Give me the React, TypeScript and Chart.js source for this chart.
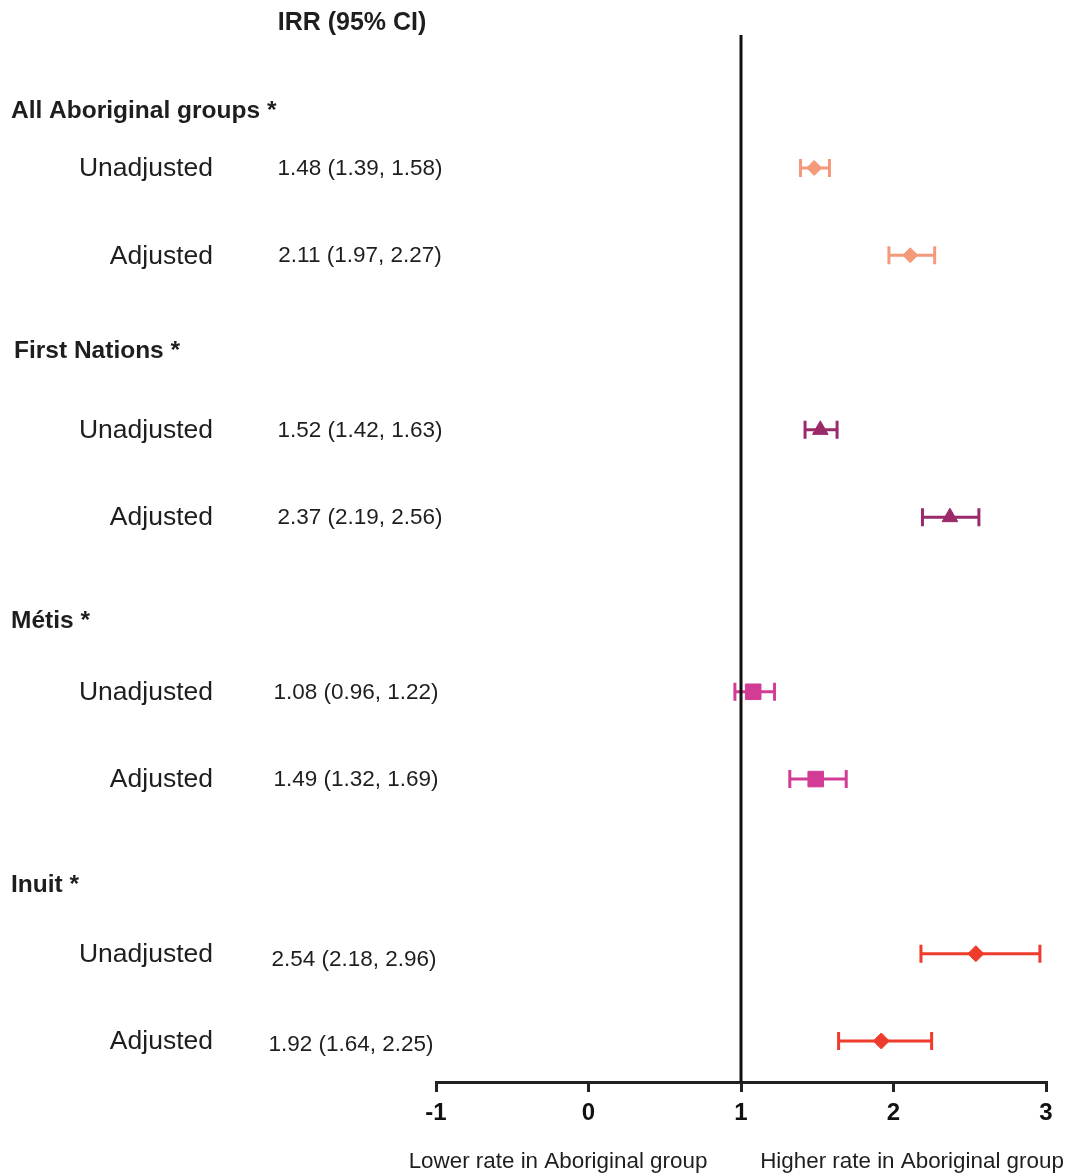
import React, { useEffect, useRef } from 'react';
import { Chart, registerables } from 'chart.js';

Chart.register(...registerables);

// ---- Data ----
const groups = ['All Aboriginal groups *', 'First Nations *', 'Métis *', 'Inuit *'];
const rowLabels = ['Unadjusted', 'Adjusted'];
const irr = [1.48, 2.11, 1.52, 2.37, 1.08, 1.49, 2.54, 1.92];
const lower = [1.39, 1.97, 1.42, 2.19, 0.96, 1.32, 2.18, 1.64];
const upper = [1.58, 2.27, 1.63, 2.56, 1.22, 1.69, 2.96, 2.25];
const xTickValues = [-1, 0, 1, 2, 3];
const columnTitle = 'IRR (95% CI)';
const lowerLabel = 'Lower rate in Aboriginal group';
const higherLabel = 'Higher rate in Aboriginal group';
const referenceValue = 1;

// ---- Styles ----
const colors = ['#F4997A', '#9B2A6A', '#D33C95', '#EE3B2B'];
const pointStyles = ['rectRot', 'triangle', 'rect', 'rectRot'];
const pointRadii = [7.5, 9, 11, 8];
const FONT = 'Arial, "Liberation Sans", Helvetica, sans-serif';
const TEXT = '#1e1e1e';
const headerOffsets = [58, 80, 72, 69];
const headerX = [11, 14, 11, 11];
const valueCenterX = [360, 360, 360, 360, 356, 356, 354, 351];
const valueDy = [0, 0, 0, 0, 0, 0, 5, 3];

const rowOf = (g: number, k: number) => 3 * g + k;

const errorBarPlugin = {
  id: 'errorBars',
  beforeDatasetsDraw(chart: any) {
    const { ctx, scales } = chart;
    const xs = scales.x;
    const ys = scales.y;
    ctx.save();
    groups.forEach((_, g) => {
      for (let k = 0; k < 2; k++) {
        const i = 2 * g + k;
        const y = ys.getPixelForValue(rowOf(g, k));
        const x1 = xs.getPixelForValue(lower[i]);
        const x2 = xs.getPixelForValue(upper[i]);
        ctx.strokeStyle = colors[g];
        ctx.lineWidth = 3;
        ctx.lineCap = 'butt';
        ctx.beginPath();
        ctx.moveTo(x1, y);
        ctx.lineTo(x2, y);
        ctx.moveTo(x1, y - 9);
        ctx.lineTo(x1, y + 9);
        ctx.moveTo(x2, y - 9);
        ctx.lineTo(x2, y + 9);
        ctx.stroke();
      }
    });
    const rx = xs.getPixelForValue(referenceValue);
    ctx.strokeStyle = '#111';
    ctx.lineWidth = 3;
    ctx.beginPath();
    ctx.moveTo(rx, chart.chartArea.top);
    ctx.lineTo(rx, chart.chartArea.bottom);
    ctx.stroke();
    ctx.restore();
  },
};

const textPlugin = {
  id: 'forestText',
  afterDraw(chart: any) {
    const { ctx, scales } = chart;
    const ys = scales.y;
    ctx.save();
    ctx.fillStyle = TEXT;
    ctx.textBaseline = 'middle';

    ctx.font = `bold 25px ${FONT}`;
    ctx.textAlign = 'center';
    ctx.fillText(columnTitle, 352, 23);

    groups.forEach((name, g) => {
      const yU = ys.getPixelForValue(rowOf(g, 0));
      ctx.font = `bold 24.5px ${FONT}`;
      ctx.textAlign = 'left';
      ctx.fillText(name, headerX[g], yU - headerOffsets[g] + 1);
      for (let k = 0; k < 2; k++) {
        const i = 2 * g + k;
        const y = ys.getPixelForValue(rowOf(g, k));
        ctx.font = `26.5px ${FONT}`;
        ctx.textAlign = 'right';
        ctx.fillText(rowLabels[k], 213, y + 1);
        ctx.font = `22.5px ${FONT}`;
        ctx.textAlign = 'center';
        const label = `${irr[i].toFixed(2)} (${lower[i].toFixed(2)}, ${upper[i].toFixed(2)})`;
        ctx.fillText(label, valueCenterX[i], y + 1 + valueDy[i]);
      }
    });

    ctx.font = `22.4px ${FONT}`;
    ctx.textAlign = 'center';
    ctx.fillText(lowerLabel, 558, 1162);
    ctx.fillText(higherLabel, 912, 1162);
    ctx.restore();
  },
};

export default function App() {
  const ref = useRef<HTMLCanvasElement | null>(null);

  useEffect(() => {
    if (!ref.current) return;
    const datasets = groups.map((name, g) => ({
      label: name,
      data: [0, 1].map((k) => ({ x: irr[2 * g + k], y: rowOf(g, k) })),
      backgroundColor: colors[g],
      borderColor: colors[g],
      borderWidth: 1,
      pointStyle: pointStyles[g],
      pointRadius: pointRadii[g],
      pointHoverRadius: pointRadii[g],
    }));
    const chart = new Chart(ref.current, {
      type: 'scatter',
      data: { datasets },
      options: {
        responsive: false,
        animation: false,
        layout: { padding: { left: 436, right: 21, top: 35, bottom: 0 } },
        plugins: { legend: { display: false }, tooltip: { enabled: false } },
        scales: {
          x: {
            type: 'linear',
            min: -1,
            max: 3,
            afterBuildTicks: (s: any) => {
              s.ticks = xTickValues.map((v) => ({ value: v }));
            },
            afterFit: (s: any) => {
              s.height = 92;
            },
            ticks: {
              color: '#111',
              font: { family: FONT, size: 24, weight: 'bold' },
              padding: 7,
            },
            grid: {
              drawOnChartArea: false,
              drawTicks: true,
              tickLength: 10,
              lineWidth: 3,
              color: '#222',
            },
            border: { display: true, color: '#222', width: 3 },
          },
          y: {
            type: 'linear',
            display: false,
            reverse: true,
            min: -1.523,
            max: 10.47,
          },
        },
      } as any,
      plugins: [errorBarPlugin, textPlugin],
    });
    return () => chart.destroy();
  }, []);

  return (
    <div style={{ position: 'absolute', left: 0, top: 0, width: 1067, height: 1174, background: '#fff' }}>
      <canvas ref={ref} width={1067} height={1174} style={{ display: 'block' }} />
    </div>
  );
}
